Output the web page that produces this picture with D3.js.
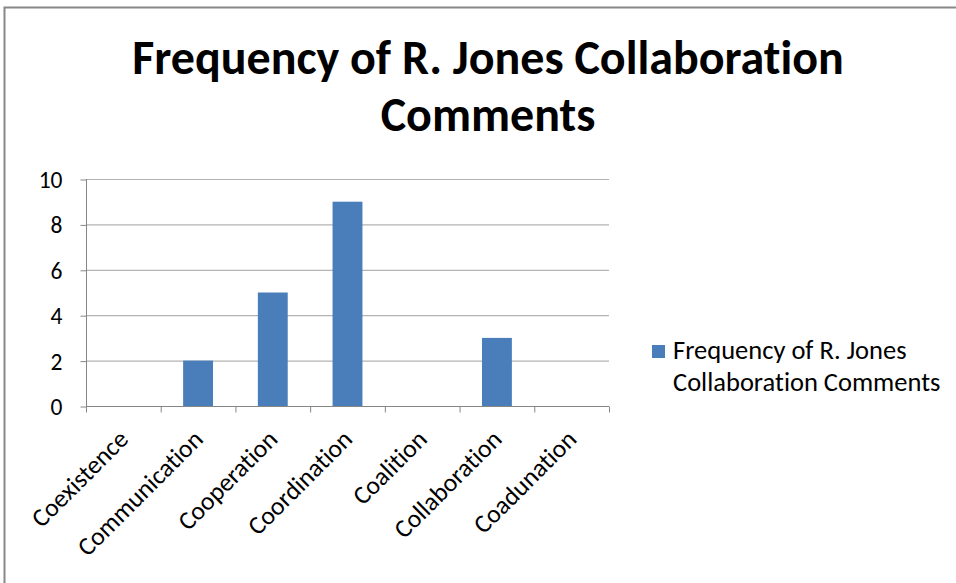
<!DOCTYPE html>
<html><head><meta charset="utf-8">
<script src="https://cdn.jsdelivr.net/npm/d3@7"></script>
<style>
html,body{margin:0;padding:0;background:#fff;}
svg{display:block;}
text{font-family:"Carlito","Lato","Open Sans",sans-serif;font-variant-ligatures:none;font-feature-settings:"liga" 0,"dlig" 0;}
</style></head>
<body>
<svg id="chart" width="956" height="583"></svg>
<script>
const categories = ["Coexistence","Communication","Cooperation","Coordination","Coalition","Collaboration","Coadunation"];
const values = [0, 2, 5, 9, 0, 3, 0];
const yTicks = [0, 2, 4, 6, 8, 10];
const titleLines = ["Frequency of R. Jones Collaboration", "Comments"];
const seriesName = ["Frequency of R. Jones", "Collaboration Comments"];

(function(){
const svg = d3.select("#chart");
const W = 956, H = 583;
svg.append("rect").attr("x",0).attr("y",0).attr("width",W).attr("height",H).attr("fill","#fff");
// outer chart border
svg.append("rect").attr("x",4.5).attr("y",7.5).attr("width",W+10).attr("height",H+10)
  .attr("fill","none").attr("stroke","#888").attr("stroke-width",2);

const pl = 86, pr = 609, pt = 179, pb = 406;
const x = d3.scaleBand().domain(categories).range([pl, pr]).paddingInner(0.6).paddingOuter(0.3);
const xb = d3.scaleBand().domain(categories).range([pl, pr]);
const y = d3.scaleLinear().domain([0, 10]).range([pb, pt]);

// gridlines
svg.append("g").selectAll("line").data(yTicks.filter(d=>d>0)).join("line")
  .attr("x1", pl).attr("x2", pr).attr("y1", d=>y(d)+0.5).attr("y2", d=>y(d)+0.5)
  .attr("stroke","#b3b3b3").attr("stroke-width",1.2);

// bars
svg.append("g").selectAll("rect").data(values).join("rect")
  .attr("x",(d,i)=>x(categories[i])).attr("width",x.bandwidth())
  .attr("y",d=>y(d)).attr("height",d=>y(0)-y(d))
  .attr("fill","#4a7ebb");

// y axis
const yAxis = d3.axisLeft(y).tickValues(yTicks).tickSize(6).tickPadding(18).tickFormat(d3.format("d"));
const gy = svg.append("g").attr("transform",`translate(${pl+0.5},0)`).call(yAxis);
gy.select(".domain").attr("stroke","#868686").attr("d",`M0,${pt}V${pb}`);
gy.selectAll(".tick line").attr("stroke","#868686").attr("transform","translate(0,0.5)");
gy.selectAll(".tick text").attr("font-size",23.5).attr("fill","#000").attr("font-family",'"Carlito","Lato","Open Sans",sans-serif').attr("dy","0.36em");

// x axis
const gx = svg.append("g").attr("transform",`translate(0,${pb+0.5})`);
gx.append("line").attr("x1",pl).attr("x2",pr).attr("stroke","#868686");
const edges = categories.map(c=>xb(c)).concat([pr]);
gx.selectAll("line.t").data(edges).join("line").attr("class","t")
  .attr("x1",d=>d+0.5).attr("x2",d=>d+0.5).attr("y1",0).attr("y2",6).attr("stroke","#868686");
gx.selectAll("text").data(categories).join("text")
  .attr("transform",d=>`translate(${xb(d)+xb.bandwidth()/2},${28}) rotate(-45)`)
  .attr("text-anchor","end").attr("font-size",25.6).attr("fill","#000")
  .attr("dy","0.35em").text(d=>d);

// title
svg.append("g").selectAll("text").data(titleLines).join("text")
  .attr("x",488).attr("y",(d,i)=>74+i*57).attr("text-anchor","middle")
  .attr("font-size",48).attr("font-weight","bold").attr("fill","#000").text(d=>d);

// legend
const lg = svg.append("g");
lg.append("rect").attr("x",652).attr("y",345).attr("width",13).attr("height",13).attr("fill","#4a7ebb");
lg.selectAll("text").data(seriesName).join("text")
  .attr("x",673).attr("y",(d,i)=>359+i*32).attr("font-size",26.5).attr("fill","#000").text(d=>d);
})();
</script>
</body></html>
